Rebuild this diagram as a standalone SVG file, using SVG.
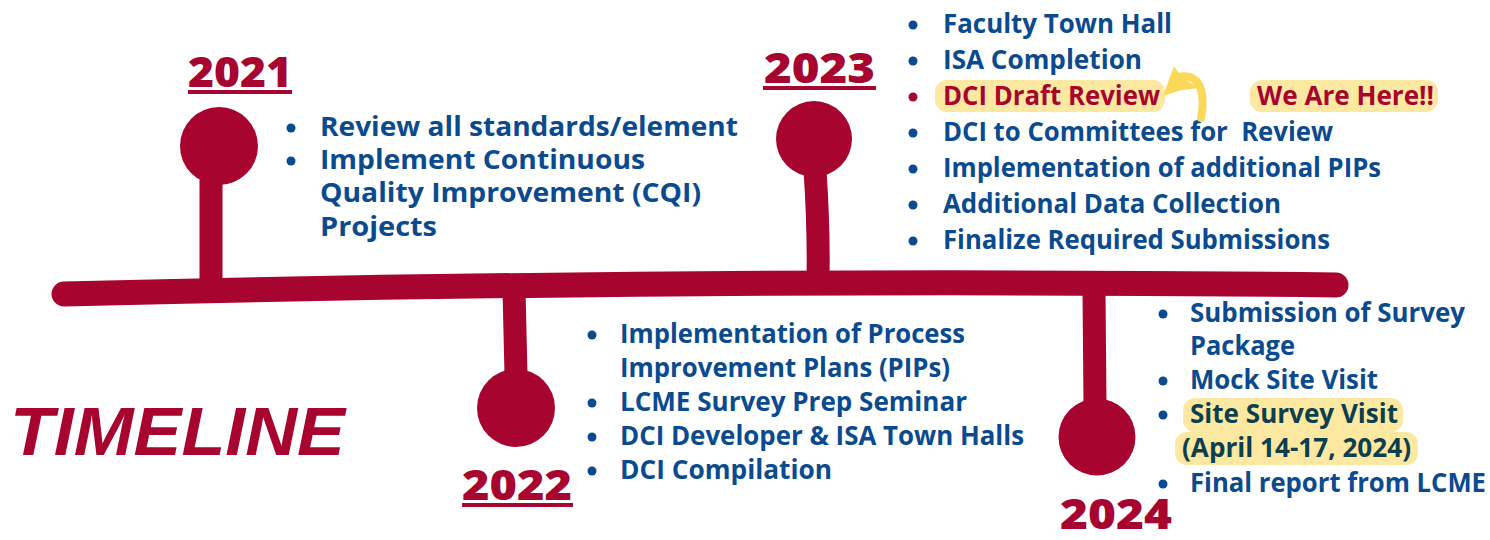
<svg xmlns="http://www.w3.org/2000/svg" width="1490" height="540" viewBox="0 0 1490 540">
<style>
.t{font-family:"Open Sans","Liberation Sans",sans-serif;font-weight:700;font-size:26px;fill:#0A4A8E}
.r{fill:#A7042F}
.yr{font-family:"Open Sans","Liberation Sans",sans-serif;font-weight:800;font-size:42px;fill:#A7042F}
.bul{fill:#0A4A8E}
.hl{fill:#FCE8A0}
.stem{stroke:#A7042F;stroke-width:23;fill:none;stroke-linecap:butt}
</style>
<rect width="1490" height="540" fill="#fff"/>
<g id="connectors">
<path d="M64,294 Q700,278 1336,285" stroke="#A7042F" stroke-width="25" fill="none" stroke-linecap="round"/>
<path class="stem" d="M211,180 L211,284"/>
<path class="stem" d="M815,170 Q819,230 818,282"/>
<path class="stem" d="M514,290 L516,375"/>
<path class="stem" d="M1094,290 L1095,405"/>
</g>
<g id="title"><text x="10" y="455" font-family="Liberation Sans,sans-serif" font-weight="700" font-style="italic" font-size="68" fill="#A7042F" textLength="335" lengthAdjust="spacingAndGlyphs">TIMELINE</text></g>
<g id="n2021">
<circle class="r" cx="219" cy="146" r="39"/>
<text class="yr" x="188" y="87" textLength="104" lengthAdjust="spacingAndGlyphs">2021</text>
<rect class="r" x="188" y="90" width="104" height="4"/>
<circle class="bul" cx="291" cy="128" r="4.5"/><text class="t" x="320" y="136" textLength="418" lengthAdjust="spacingAndGlyphs">Review all standards/element</text>
<circle class="bul" cx="291" cy="161" r="4.5"/><text class="t" x="320" y="169" textLength="325" lengthAdjust="spacingAndGlyphs">Implement Continuous</text>
<text class="t" x="320" y="202" textLength="381" lengthAdjust="spacingAndGlyphs">Quality Improvement (CQI)</text>
<text class="t" x="320" y="236" textLength="117" lengthAdjust="spacingAndGlyphs">Projects</text>
</g>
<g id="n2023">
<circle class="r" cx="814" cy="139" r="38"/>
<text class="yr" x="764" y="83" textLength="111" lengthAdjust="spacingAndGlyphs">2023</text>
<rect class="r" x="763" y="86" width="113" height="4"/>
<rect class="hl" x="935" y="80" width="230" height="32" rx="12"/>
<rect class="hl" x="1250" y="80" width="188" height="32" rx="12"/>
<circle class="bul" cx="913" cy="25" r="4.5"/><text class="t" x="943" y="33" textLength="229" lengthAdjust="spacingAndGlyphs">Faculty Town Hall</text>
<circle class="bul" cx="913" cy="61" r="4.5"/><text class="t" x="943" y="69" textLength="199" lengthAdjust="spacingAndGlyphs">ISA Completion</text>
<circle cx="913" cy="97" r="4.5" fill="#A7042F"/><text class="t" x="943" y="105" style="fill:#A7042F" textLength="217" lengthAdjust="spacingAndGlyphs">DCI Draft Review</text>
<circle class="bul" cx="913" cy="133" r="4.5"/><text class="t" x="943" y="141" xml:space="preserve" textLength="390" lengthAdjust="spacingAndGlyphs">DCI to Committees for  Review</text>
<circle class="bul" cx="913" cy="169" r="4.5"/><text class="t" x="943" y="177" textLength="438" lengthAdjust="spacingAndGlyphs">Implementation of additional PIPs</text>
<circle class="bul" cx="913" cy="205" r="4.5"/><text class="t" x="943" y="213" textLength="338" lengthAdjust="spacingAndGlyphs">Additional Data Collection</text>
<circle class="bul" cx="913" cy="241" r="4.5"/><text class="t" x="943" y="249" textLength="387" lengthAdjust="spacingAndGlyphs">Finalize Required Submissions</text>
<text class="t" x="1257" y="105" style="fill:#A7042F" textLength="177" lengthAdjust="spacingAndGlyphs">We Are Here!!</text>
<path d="M1201,118 C1206,92 1200,72 1178,77" stroke="#F9D85A" stroke-width="8" fill="none" stroke-linecap="round"/>
<polygon points="1163,96 1174,66 1182,78 1200,88 1182,90" fill="#F9D85A"/>
</g>
<g id="n2022">
<circle class="r" cx="516" cy="408" r="39"/>
<text class="yr" x="462" y="500" textLength="110" lengthAdjust="spacingAndGlyphs">2022</text>
<rect class="r" x="462" y="503" width="111" height="4"/>
<circle class="bul" cx="592" cy="335" r="4.5"/><text class="t" x="620" y="343" textLength="345" lengthAdjust="spacingAndGlyphs">Implementation of Process</text>
<text class="t" x="620" y="377" textLength="330" lengthAdjust="spacingAndGlyphs">Improvement Plans (PIPs)</text>
<circle class="bul" cx="592" cy="403" r="4.5"/><text class="t" x="620" y="411" textLength="347" lengthAdjust="spacingAndGlyphs">LCME Survey Prep Seminar</text>
<circle class="bul" cx="592" cy="437" r="4.5"/><text class="t" x="620" y="445" textLength="404" lengthAdjust="spacingAndGlyphs">DCI Developer &amp; ISA Town Halls</text>
<circle class="bul" cx="592" cy="471" r="4.5"/><text class="t" x="620" y="479" textLength="212" lengthAdjust="spacingAndGlyphs">DCI Compilation</text>
</g>
<g id="n2024">
<circle class="r" cx="1097" cy="437" r="38.5"/>
<text class="yr" x="1060" y="529" textLength="112" lengthAdjust="spacingAndGlyphs">2024</text>
<rect class="hl" x="1183" y="398" width="220" height="34" rx="12"/>
<rect class="hl" x="1175" y="432" width="243" height="33" rx="12"/>
<circle class="bul" cx="1163" cy="314" r="4.5"/><text class="t" x="1190" y="322" textLength="275" lengthAdjust="spacingAndGlyphs">Submission of Survey</text>
<text class="t" x="1190" y="355" textLength="105" lengthAdjust="spacingAndGlyphs">Package</text>
<circle class="bul" cx="1163" cy="381" r="4.5"/><text class="t" x="1190" y="389" textLength="188" lengthAdjust="spacingAndGlyphs">Mock Site Visit</text>
<circle class="bul" cx="1163" cy="415" r="4.5"/><text class="t" x="1190" y="423" style="fill:#0B3F4F" textLength="208" lengthAdjust="spacingAndGlyphs">Site Survey Visit</text>
<text class="t" x="1182" y="457" style="fill:#0B3F4F" textLength="229" lengthAdjust="spacingAndGlyphs">(April 14-17, 2024)</text>
<circle class="bul" cx="1163" cy="484" r="4.5"/><text class="t" x="1190" y="492" textLength="296" lengthAdjust="spacingAndGlyphs">Final report from LCME</text>
</g>
</svg>
